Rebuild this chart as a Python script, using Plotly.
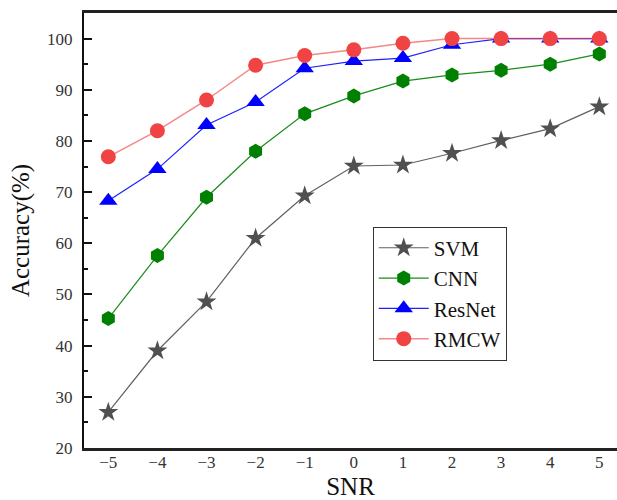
import plotly.graph_objects as go

snr = [-5, -4, -3, -2, -1, 0, 1, 2, 3, 4, 5]
svm = [27.0, 39.0, 48.6, 61.0, 69.3, 75.1, 75.3, 77.6, 80.1, 82.4, 86.7]
cnn = [45.3, 57.6, 69.0, 78.0, 85.3, 88.8, 91.7, 92.9, 93.8, 95.0, 97.0]
resnet = [68.3, 74.5, 83.1, 87.6, 94.2, 95.6, 96.2, 98.8, 100.0, 100.0, 100.0]
rmcw = [76.9, 82.0, 88.0, 94.8, 96.7, 97.8, 99.1, 100.0, 100.0, 100.0, 100.0]
y_ticks = [20, 30, 40, 50, 60, 70, 80, 90, 100]
y_minor = [25, 35, 45, 55, 65, 75, 85, 95]

font_family = "Liberation Serif"

fig = go.Figure()
fig.add_trace(go.Scatter(x=snr, y=svm, name="SVM", mode="lines+markers",
                         line=dict(color="#606060", width=1.2),
                         marker=dict(symbol="star", size=15, color="#505050")))
fig.add_trace(go.Scatter(x=snr, y=cnn, name="CNN", mode="lines+markers",
                         line=dict(color="#1a8c1a", width=1.2),
                         marker=dict(symbol="hexagon", size=15, color="#008000")))
fig.add_trace(go.Scatter(x=snr, y=resnet, name="ResNet", mode="lines+markers",
                         line=dict(color="#2020ff", width=1.2),
                         marker=dict(symbol="triangle-up", size=16, color="#0000ff")))
fig.add_trace(go.Scatter(x=snr, y=rmcw, name="RMCW", mode="lines+markers",
                         line=dict(color="rgba(240,70,70,0.65)", width=1.5),
                         marker=dict(symbol="circle", size=15, color="#f04444")))

fig.update_layout(
    width=617, height=500,
    margin=dict(l=84, r=0, t=13, b=52, autoexpand=False),
    paper_bgcolor="white", plot_bgcolor="white",
    font=dict(family=font_family, color="#222222"),
    showlegend=True,
    legend=dict(x=0.5417, y=0.509, xanchor="left", yanchor="top",
                bordercolor="#333333", borderwidth=1, bgcolor="white",
                font=dict(family=font_family, size=21, color="#111111"),
                itemwidth=50, tracegroupgap=0),
    xaxis=dict(range=[-5.495, 5.36], tickvals=snr,
               ticktext=[("\u2212" + str(-v)) if v < 0 else str(v) for v in snr],
               automargin=False,
               showgrid=False, zeroline=False, showline=True, linecolor="#222222", linewidth=2.5,
               mirror=True, ticks="", tickfont=dict(size=17, family=font_family, color="#333333"),
               ticklabelstandoff=-3,
               title=dict(text="SNR", font=dict(size=25, family=font_family, color="#111111"), standoff=14)),
    yaxis=dict(range=[20, 105], tickvals=y_ticks, automargin=False,
               showgrid=False, zeroline=False, showline=True, linecolor="#111111", linewidth=2,
               ticks="inside", ticklen=8, tickwidth=1.5, tickcolor="#111111",
               minor=dict(tickvals=y_minor, ticks="inside", ticklen=4, tickwidth=1.5, tickcolor="#111111"),
               tickfont=dict(size=17, family=font_family, color="#333333"), ticklabelstandoff=6,
               title=dict(text="Accuracy(%)", font=dict(size=25, family=font_family, color="#111111"), standoff=10)),
)

fig.write_html("out.html", config={"displayModeBar": False},
               post_script="document.body.style.margin='0';document.body.style.padding='0';")
